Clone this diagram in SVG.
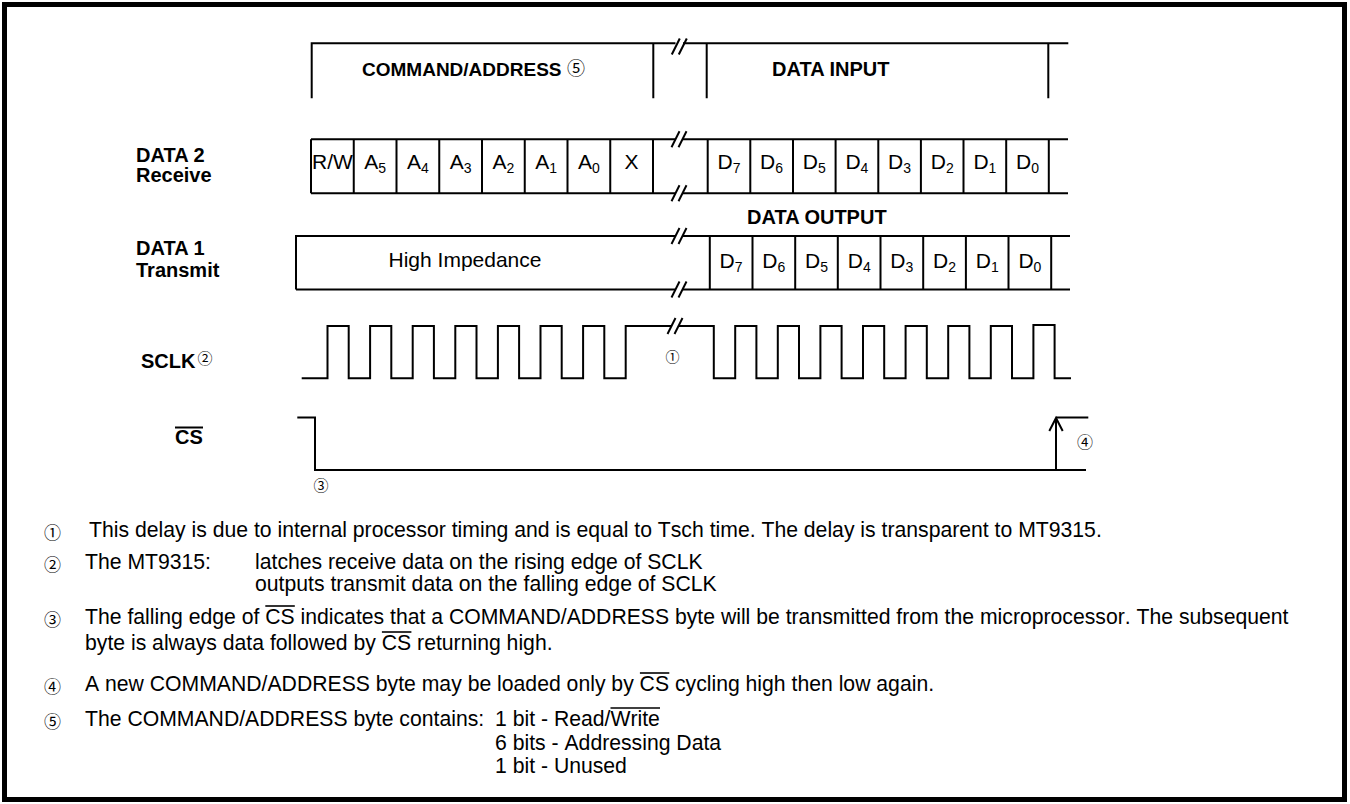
<svg xmlns="http://www.w3.org/2000/svg" width="1350" height="804" viewBox="0 0 1350 804">
<style>
.ln{stroke:#000;stroke-width:2;fill:none;stroke-linecap:butt}
.ov{stroke:#000;stroke-width:1.6;fill:none}
.fr{stroke:#000;stroke-width:5;fill:none}
.lbl{font-family:"Liberation Sans",Arial,sans-serif;font-weight:bold;font-size:20px;fill:#000}
.cell{font-family:"Liberation Sans",Arial,sans-serif;font-size:21px;text-anchor:middle;fill:#000}
.note{font-family:"Liberation Sans",Arial,sans-serif;font-size:21.2px;fill:#000;font-kerning:none}
.circ{font-family:"Noto Sans CJK JP","DejaVu Sans",sans-serif;font-size:17px;text-anchor:middle;fill:#000}
</style>
<defs>
<g id="brk"><line x1="-7.5" y1="8" x2="0.5" y2="-8" stroke="#000" stroke-width="2"/><line x1="-0.5" y1="8" x2="7.5" y2="-8" stroke="#000" stroke-width="2"/></g>
</defs>
<rect x="4.5" y="4.5" width="1340" height="795" class="fr"/>

<g id="header">
<path class="ln" d="M311.7 98.3 V43.3 H675.5 M683 43.3 H1068.3 M653.3 43.3 V98.3 M706.7 43.3 V98.3 M1048.3 43.3 V98.3"/>
<use href="#brk" x="679.3" y="46.5"/>
<text class="lbl" x="362" y="75.5" style="font-size:19px">COMMAND/ADDRESS</text>
<text class="circ" x="576" y="75" style="font-size:18px">⑤</text>
<text class="lbl" x="772" y="76">DATA INPUT</text>
</g>

<g id="labels">
<text class="lbl" x="136" y="161.7">DATA 2</text>
<text class="lbl" x="136" y="181.7">Receive</text>
<text class="lbl" x="136" y="255">DATA 1</text>
<text class="lbl" x="136" y="276.7">Transmit</text>
<text class="lbl" x="141" y="368.3">SCLK</text>
<text class="circ" x="205" y="363.8" style="font-size:15px">②</text>
<text class="lbl" x="175" y="444">CS</text>
<line class="ln" x1="175" y1="427.5" x2="203" y2="427.5"/>
</g>

<g id="data2">
<path class="ln" d="M311 139.3 H675.5 M682.5 139.3 H1068 M311 193.3 H675.5 M682.5 193.3 H1068"/>
<path class="ln" d="M311 139.3V193.3 M353.75 139.3V193.3 M396.5 139.3V193.3 M439.25 139.3V193.3 M482 139.3V193.3 M524.75 139.3V193.3 M567.5 139.3V193.3 M610.25 139.3V193.3 M653 139.3V193.3 M707.7 139.3V193.3 M750.3 139.3V193.3 M793 139.3V193.3 M835.6 139.3V193.3 M878.3 139.3V193.3 M920.9 139.3V193.3 M963.5 139.3V193.3 M1006.2 139.3V193.3 M1048.8 139.3V193.3"/>
<use href="#brk" x="679" y="139.3"/>
<use href="#brk" x="679" y="193.3"/>
<text class="cell" x="332.4" y="169">R/W</text>
<text class="cell" x="375.1" y="169">A<tspan dy="4" font-size="14">5</tspan></text>
<text class="cell" x="417.9" y="169">A<tspan dy="4" font-size="14">4</tspan></text>
<text class="cell" x="460.6" y="169">A<tspan dy="4" font-size="14">3</tspan></text>
<text class="cell" x="503.4" y="169">A<tspan dy="4" font-size="14">2</tspan></text>
<text class="cell" x="546.1" y="169">A<tspan dy="4" font-size="14">1</tspan></text>
<text class="cell" x="588.9" y="169">A<tspan dy="4" font-size="14">0</tspan></text>
<text class="cell" x="631.6" y="169">X</text>
<text class="cell" x="729" y="169">D<tspan dy="4" font-size="14">7</tspan></text>
<text class="cell" x="771.6" y="169">D<tspan dy="4" font-size="14">6</tspan></text>
<text class="cell" x="814.3" y="169">D<tspan dy="4" font-size="14">5</tspan></text>
<text class="cell" x="856.9" y="169">D<tspan dy="4" font-size="14">4</tspan></text>
<text class="cell" x="899.6" y="169">D<tspan dy="4" font-size="14">3</tspan></text>
<text class="cell" x="942.2" y="169">D<tspan dy="4" font-size="14">2</tspan></text>
<text class="cell" x="984.9" y="169">D<tspan dy="4" font-size="14">1</tspan></text>
<text class="cell" x="1027.5" y="169">D<tspan dy="4" font-size="14">0</tspan></text>
</g>

<text class="lbl" x="747" y="224">DATA OUTPUT</text>

<g id="data1">
<path class="ln" d="M296 289.5 V236 H675.5 M682.5 236 H1070 M296 289.5 H675.5 M682.5 289.5 H1070"/>
<path class="ln" d="M709.8 236V289.5 M752.5 236V289.5 M795.2 236V289.5 M837.8 236V289.5 M880.5 236V289.5 M923.2 236V289.5 M965.9 236V289.5 M1008.5 236V289.5 M1051.2 236V289.5"/>
<use href="#brk" x="679" y="236"/>
<use href="#brk" x="679" y="289.5"/>
<text class="cell" x="465" y="267">High Impedance</text>
<text class="cell" x="731.1" y="268">D<tspan dy="4" font-size="14">7</tspan></text>
<text class="cell" x="773.8" y="268">D<tspan dy="4" font-size="14">6</tspan></text>
<text class="cell" x="816.5" y="268">D<tspan dy="4" font-size="14">5</tspan></text>
<text class="cell" x="859.2" y="268">D<tspan dy="4" font-size="14">4</tspan></text>
<text class="cell" x="901.8" y="268">D<tspan dy="4" font-size="14">3</tspan></text>
<text class="cell" x="944.5" y="268">D<tspan dy="4" font-size="14">2</tspan></text>
<text class="cell" x="987.2" y="268">D<tspan dy="4" font-size="14">1</tspan></text>
<text class="cell" x="1029.9" y="268">D<tspan dy="4" font-size="14">0</tspan></text>
</g>

<g id="sclk">
<path class="ln" d="M301.7 378.3 H327.5 V326 H348.7 V378.3 H370.1 V326 H391.3 V378.3 H412.7 V326 H433.9 V378.3 H455.3 V326 H476.5 V378.3 H497.9 V326 H519.1 V378.3 H540.5 V326 H561.7 V378.3 H583.1 V326 H604.3 V378.3 H625.7 V326 H671.5 M678.5 326 H713.8 V378.3 H735.2 V326 H756.4 V378.3 H777.8 V326 H799 V378.3 H820.4 V326 H841.6 V378.3 H863 V326 H884.2 V378.3 H905.6 V326 H926.8 V378.3 H948.2 V326 H969.4 V378.3 H990.8 V326 H1012 V378.3 H1033.4 V325 H1054.6 V378.3 H1071"/>
<use href="#brk" x="675" y="326"/>
<text class="circ" x="672.4" y="362" style="font-size:14px">①</text>
</g>

<g id="cs">
<path class="ln" d="M297.3 417.5 H315 V470 H1086 M1056 470 V418.5 M1056 417.5 H1088.3"/>
<polyline class="ln" points="1049.3,431 1056,418 1062.7,431"/>
<text class="circ" x="321" y="491" style="font-size:15px">③</text>
<text class="circ" x="1085" y="447.5" style="font-size:16px">④</text>
</g>

<g id="notes">
<text class="circ" x="52.5" y="539">①</text>
<text class="note" x="89" y="537">This delay is due to internal processor timing and is equal to Tsch time. The delay is transparent to MT9315.</text>
<text class="circ" x="52.5" y="571">②</text>
<text class="note" x="85" y="569">The MT9315:</text>
<text class="note" x="255" y="569">latches receive data on the rising edge of SCLK</text>
<text class="note" x="255" y="591">outputs transmit data on the falling edge of SCLK</text>
<text class="circ" x="52.5" y="626">③</text>
<text class="note" x="85" y="624">The falling edge of CS indicates that a COMMAND/ADDRESS byte will be transmitted from the microprocessor. The subsequent</text>
<line class="ov" x1="265.3" y1="606" x2="294.8" y2="606"/>
<text class="note" x="85" y="650">byte is always data followed by CS returning high.</text>
<line class="ov" x1="381.9" y1="632" x2="411.4" y2="632"/>
<text class="circ" x="52.5" y="693">④</text>
<text class="note" x="85" y="691">A new COMMAND/ADDRESS byte may be loaded only by CS cycling high then low again.</text>
<line class="ov" x1="639.9" y1="673" x2="669.3" y2="673"/>
<text class="circ" x="52.5" y="728">⑤</text>
<text class="note" x="85" y="726">The COMMAND/ADDRESS byte contains:</text>
<text class="note" x="495" y="726">1 bit - Read/Write</text>
<line class="ov" x1="610.5" y1="708" x2="660" y2="708"/>
<text class="note" x="495" y="750">6 bits - Addressing Data</text>
<text class="note" x="495" y="773">1 bit - Unused</text>
</g>
</svg>
